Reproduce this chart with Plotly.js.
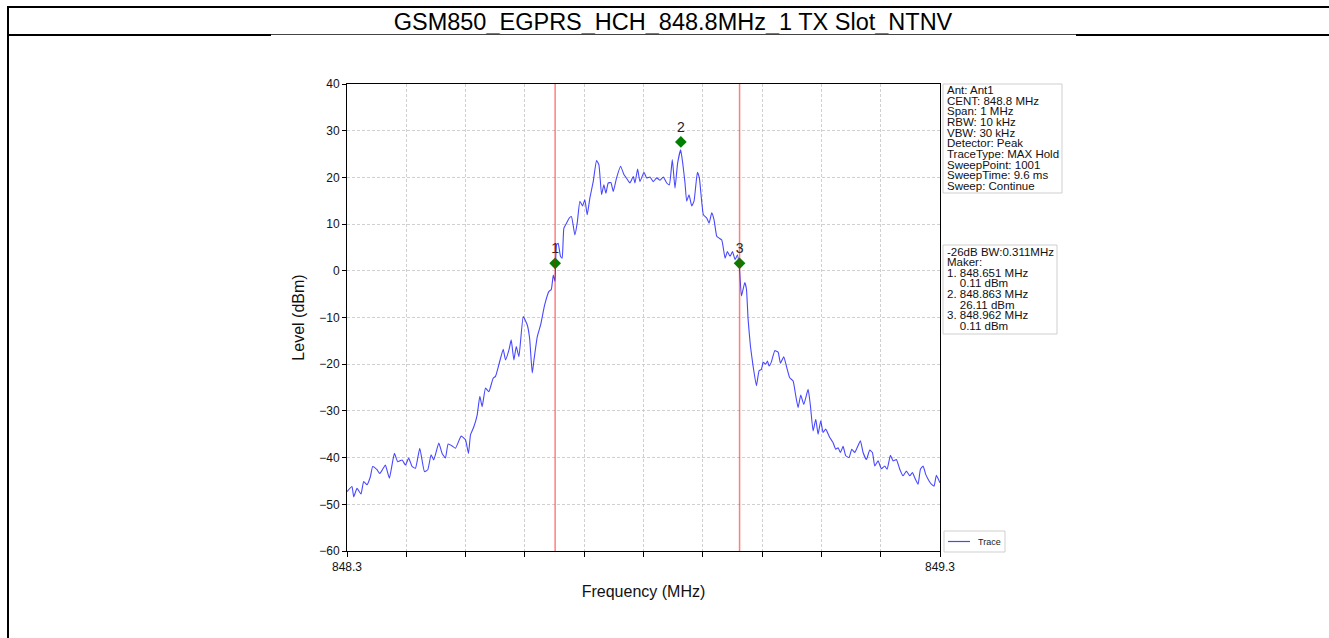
<!DOCTYPE html>
<html>
<head>
<meta charset="utf-8">
<script src="https://cdn.plot.ly/plotly-3.0.1.min.js"></script>
<style>
  html, body { margin: 0; padding: 0; background: #fff; }
  #wrap { position: relative; width: 1329px; height: 638px; overflow: hidden; }
  #chart { position: absolute; left: 0; top: 0; width: 1329px; height: 638px; }
  .ln { position: absolute; background: #000; z-index: 5; }
</style>
</head>
<body>
<div id="wrap">
  <div id="chart"></div>
  <div class="ln" style="left:7px; top:6px; width:1322px; height:2px;"></div>
  <div class="ln" style="left:7px; top:6px; width:2px; height:632px;"></div>
  <div class="ln" style="left:7px; top:34px; width:264px; height:2px;"></div>
  <div class="ln" style="left:271px; top:34px; width:805px; height:1px; background:#444;"></div>
  <div class="ln" style="left:1076px; top:34px; width:253px; height:2px;"></div>
</div>
<script>
// ---------- data ----------
const chartTitle = 'GSM850_EGPRS_HCH_848.8MHz_1 TX Slot_NTNV';

const freqMHz = [
  848.3000, 848.3084, 848.3113, 848.3169, 848.3236, 848.3281, 848.3338, 848.3394, 848.3433, 848.3506,
  848.3552, 848.3597, 848.3647, 848.3715, 848.3799, 848.3856, 848.3929, 848.3985, 848.4041, 848.4097,
  848.4154, 848.4227, 848.4306, 848.4362, 848.4418, 848.4463, 848.4548, 848.4604, 848.4660, 848.4705,
  848.4773, 848.4829, 848.4925, 848.4998, 848.5049, 848.5083, 848.5139, 848.5195, 848.5240, 848.5279,
  848.5336, 848.5392, 848.5465, 848.5504, 848.5561, 848.5634, 848.5673, 848.5730, 848.5769, 848.5814,
  848.5854, 848.5899, 848.5972, 848.6040, 848.6079, 848.6124, 848.6153, 848.6209, 848.6265, 848.6333,
  848.6406, 848.6445, 848.6479, 848.6507,
  848.6533, 848.6561, 848.6600, 848.6628, 848.6657, 848.6702, 848.6747, 848.6786, 848.6842, 848.6882,
  848.6927, 848.6972, 848.7011, 848.7051, 848.7096, 848.7152, 848.7208, 848.7248, 848.7293, 848.7332,
  848.7366, 848.7405, 848.7450, 848.7490, 848.7546, 848.7614, 848.7670, 848.7726, 848.7771, 848.7828,
  848.7856, 848.7901, 848.7940, 848.8008, 848.8053, 848.8109, 848.8165, 848.8222, 848.8278, 848.8334,
  848.8391, 848.8436, 848.8486, 848.8531, 848.8576, 848.8627, 848.8661, 848.8700, 848.8728, 848.8768,
  848.8813, 848.8852, 848.8909, 848.8942, 848.9010, 848.9066, 848.9106, 848.9151, 848.9190, 848.9235,
  848.9275, 848.9320, 848.9376, 848.9415, 848.9460, 848.9500, 848.9545, 848.9584, 848.9618,
  848.9652, 848.9708, 848.9736, 848.9764, 848.9803, 848.9848, 848.9904, 848.9949, 848.9989, 849.0017,
  849.0062, 849.0090, 849.0118, 849.0157, 849.0214, 849.0270, 849.0309, 849.0365, 849.0410, 849.0466,
  849.0523, 849.0568, 849.0607, 849.0652, 849.0703, 849.0776, 849.0815, 849.0860, 849.0905, 849.0944,
  849.0989, 849.1028, 849.1073, 849.1141, 849.1197, 849.1242, 849.1281, 849.1321, 849.1366, 849.1411,
  849.1467, 849.1512, 849.1562, 849.1602, 849.1658, 849.1703, 849.1759, 849.1815, 849.1860, 849.1900,
  849.1956, 849.2012, 849.2068, 849.2108, 849.2164, 849.2209, 849.2265, 849.2321, 849.2377, 849.2433,
  849.2490, 849.2535, 849.2574, 849.2630, 849.2670, 849.2715, 849.2759, 849.2816, 849.2855, 849.2900,
  849.2939, 849.3000
];

const levelDBm = [
  -47.3, -46.2, -48.4, -46.6, -47.8, -45.1, -45.8, -44.1, -41.9, -42.6,
  -43.4, -42.6, -41.6, -44.4, -39.1, -40.9, -40.5, -41.6, -40.1, -41.9,
  -42.3, -38.0, -43.0, -42.6, -39.4, -40.5, -36.9, -39.1, -40.1, -37.1,
  -37.5, -38.0, -35.4, -36.2, -39.1, -35.1, -33.4, -30.9, -26.9, -29.1,
  -25.1, -25.9, -23.0, -22.6, -20.1, -16.8, -19.1, -17.0, -14.8, -19.1,
  -16.2, -18.4, -9.8, -11.6, -14.4, -21.9, -19.1, -14.1, -11.6, -7.3,
  -4.4, -4.0, -0.9, -2.3,
  5.6, 5.9, 3.1, 2.7, 9.1, 10.2, 11.3, 11.6, 7.7, 10.2,
  14.9, 13.9, 15.2, 12.0, 15.6, 19.1, 23.6, 22.7, 16.3, 18.4,
  16.6, 18.8, 18.9, 17.0, 19.9, 22.4, 20.6, 19.6, 18.8, 20.2,
  18.8, 21.8, 19.1, 21.1, 19.9, 20.1, 19.1, 19.9, 19.4, 20.1,
  18.8, 18.4, 23.8, 17.7, 23.1, 25.9, 23.1, 18.8, 14.9, 16.3,
  13.9, 14.9, 21.1, 19.9, 12.0, 11.3, 10.2, 12.4, 10.9, 7.4,
  7.0, 6.6, 2.7, 4.1, 3.1, 4.1, 2.4, 3.4, 0.6,
  -5.4, -2.5, -3.9, -10.4, -16.1, -20.4, -24.6, -21.4, -21.1, -19.6,
  -20.0, -19.3, -20.4, -19.5, -17.1, -17.4, -19.8, -18.4, -20.4, -22.9,
  -23.6, -26.8, -29.3, -26.6, -28.6, -25.4, -28.9, -34.3, -31.8, -35.0,
  -32.1, -34.6, -33.9, -35.7, -36.8, -38.2, -37.9, -38.9, -37.6, -39.6,
  -40.0, -38.2, -38.9, -37.9, -36.4, -38.9, -40.4, -38.4, -38.9, -41.8,
  -40.7, -42.4, -41.8, -42.5, -39.5, -40.7, -40.4, -42.5, -43.9, -42.9,
  -43.9, -43.2, -44.3, -45.7, -42.5, -41.8, -43.6, -45.0, -45.7, -46.1,
  -43.8, -45.4
];

const markerFreq = [848.651, 848.863, 848.962];
const markerLevel = [1.6, 27.6, 1.6];
const markerLabels = ['1', '2', '3'];
const bwEdges = [848.651, 848.962];

const xTickVals = [848.3, 848.4, 848.5, 848.6, 848.7, 848.8, 848.9, 849.0, 849.1, 849.2, 849.3];
const xTickText = ['848.3', '', '', '', '', '', '', '', '', '', '849.3'];
const yTickVals = [-60, -50, -40, -30, -20, -10, 0, 10, 20, 30, 40];

const legendLabel = 'Trace';
const infoLines = ['Ant: Ant1', 'CENT: 848.8 MHz', 'Span: 1 MHz', 'RBW: 10 kHz', 'VBW: 30 kHz',
  'Detector: Peak', 'TraceType: MAX Hold', 'SweepPoint: 1001', 'SweepTime: 9.6 ms', 'Sweep: Continue'];
const markerInfoLines = ['-26dB BW:0.311MHz', 'Maker:', '1. 848.651 MHz', '\u00a0\u00a0\u00a0 0.11 dBm',
  '2. 848.863 MHz', '\u00a0\u00a0\u00a0 26.11 dBm', '3. 848.962 MHz', '\u00a0\u00a0\u00a0 0.11 dBm'];

// ---------- layout helpers (pixel -> paper) ----------
const W = 1329, H = 638;
const PL = 347, PR = 940, PT = 84, PB = 551;
const px2x = p => (p - PL) / (PR - PL);
const px2y = p => (PB - p) / (PB - PT);
const FONT = 'Liberation Sans, Arial, sans-serif';
const TRACE_COLOR = 'rgba(0,0,255,0.72)';

const annotations = [];
const shapes = [];

function boxRect(left, top, right, bottom) {
  shapes.push({type: 'rect', xref: 'paper', yref: 'paper',
    x0: px2x(left), x1: px2x(right), y0: px2y(bottom), y1: px2y(top),
    line: {color: '#cfcfcf', width: 1}, fillcolor: 'rgba(255,255,255,0.9)', layer: 'above'});
}
function textBox(lines, left, top, right, bottom, firstY, step) {
  boxRect(left, top, right, bottom);
  lines.forEach((t, i) => {
    annotations.push({xref: 'paper', yref: 'paper', x: px2x(left + 2), y: px2y(firstY + i * step),
      xanchor: 'left', yanchor: 'middle', showarrow: false, text: t,
      font: {family: FONT, size: 11.5, color: '#111'}});
  });
}
textBox(infoLines, 943, 84, 1062, 193, 90, 10.67);
textBox(markerInfoLines, 943, 245, 1057, 334, 251.5, 10.6);

// compact legend box (drawn to match the reference)
boxRect(944, 531, 1005, 552);
shapes.push({type: 'line', xref: 'paper', yref: 'paper', x0: px2x(948), x1: px2x(970),
  y0: px2y(541.5), y1: px2y(541.5), line: {color: TRACE_COLOR, width: 1.2}, layer: 'above'});
annotations.push({xref: 'paper', yref: 'paper', x: px2x(976), y: px2y(541.5), xanchor: 'left',
  yanchor: 'middle', showarrow: false, text: legendLabel, font: {family: FONT, size: 9, color: '#222'}});

bwEdges.forEach(f => {
  shapes.push({type: 'line', xref: 'x', yref: 'paper', x0: f, x1: f, y0: 0, y1: 1,
    line: {color: 'rgba(255,0,0,0.5)', width: 1.5}, layer: 'above'});
});

const traces = [
  {x: freqMHz, y: levelDBm, type: 'scatter', mode: 'lines', name: legendLabel, showlegend: false,
   line: {color: TRACE_COLOR, width: 1.1, shape: 'spline', smoothing: 0.4}},
  {x: markerFreq, y: markerLevel, type: 'scatter', mode: 'markers+text', text: markerLabels,
   textposition: 'top center', showlegend: false, cliponaxis: false,
   textfont: {family: FONT, size: 14, color: '#222'},
   marker: {symbol: 'diamond', size: 9, color: 'green'}}
];

const axisCommon = {
  showline: true, linecolor: '#000', linewidth: 1, mirror: true,
  ticks: 'outside', ticklen: 4, tickwidth: 1, tickcolor: '#000',
  showgrid: true, gridcolor: '#c4c4c4', gridwidth: 0.8, griddash: '3px,2px',
  zeroline: false, tickfont: {family: FONT, size: 12, color: '#111'}
};

const layout = {
  width: W, height: H,
  margin: {l: PL, r: W - PR, t: PT, b: H - PB, pad: 0},
  paper_bgcolor: '#fff', plot_bgcolor: '#fff',
  font: {family: FONT, color: '#111'},
  title: {text: chartTitle, font: {family: FONT, size: 23.5, color: '#000'},
    xref: 'container', x: 673 / W, xanchor: 'center', yref: 'container', y: 1 - 22 / H, yanchor: 'middle'},
  xaxis: Object.assign({}, axisCommon, {
    range: [848.3, 849.3], tickmode: 'array', tickvals: xTickVals, ticktext: xTickText,
    ticklen: 5,
    title: {text: 'Frequency (MHz)', font: {family: FONT, size: 16, color: '#111'}, standoff: 12}
  }),
  yaxis: Object.assign({}, axisCommon, {
    range: [-60, 40], tickmode: 'array', tickvals: yTickVals,
    title: {text: 'Level (dBm)', font: {family: FONT, size: 16, color: '#111'}, standoff: 10}
  }),
  showlegend: false,
  annotations: annotations,
  shapes: shapes
};

Plotly.newPlot('chart', traces, layout, {displayModeBar: false, staticPlot: true});
</script>
</body>
</html>
